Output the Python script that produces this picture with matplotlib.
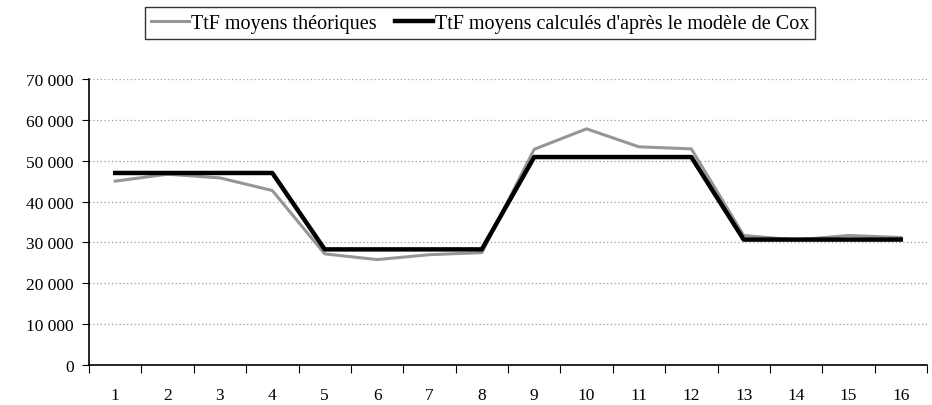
import matplotlib
matplotlib.use("Agg")
import matplotlib.pyplot as plt
import numpy as np

categories = [str(i) for i in range(1, 17)]
theoretical = [45000, 46700, 45800, 42700, 27200, 25800, 27000, 27500,
               52800, 57800, 53400, 52900, 31700, 30600, 31700, 31200]
cox = [47000, 47000, 47000, 47000, 28300, 28300, 28300, 28300,
       50900, 50900, 50900, 50900, 30700, 30700, 30700, 30700]
yticks = [0, 10000, 20000, 30000, 40000, 50000, 60000, 70000]
ytick_labels = ["0", "10 000", "20 000", "30 000", "40 000", "50 000", "60 000", "70 000"]

plt.rcParams['font.family'] = ['Liberation Serif', 'DejaVu Serif']

fig = plt.figure(figsize=(9.32, 4.06), dpi=100)
ax = fig.add_axes([89/932, 40/406, 838/932, 286/406])

x = np.arange(1, len(categories) + 1)
for yv in yticks[1:]:
    ax.axhline(yv, color='#9a9ab0', lw=0.9, ls=(0, (1, 2)), zorder=1)

l1, = ax.plot(x, theoretical, color='#969696', lw=2.2, zorder=3, label='TtF moyens théoriques')
l2, = ax.plot(x, cox, color='black', lw=3.2, zorder=4, label="TtF moyens calculés d'après le modèle de Cox")

ax.set_xlim(0.5, 16.5)
ax.set_ylim(0, 70000)
ax.set_yticks(yticks)
ax.set_yticklabels(ytick_labels, fontsize=12.5)
ax.set_xticks(np.arange(0.5, 17, 1))
ax.set_xticklabels([])
ax.set_xticks(x, minor=True)
ax.set_xticklabels(categories, minor=True, fontsize=12.5)
ax.tick_params(axis='x', which='minor', length=0, pad=16)
ax.tick_params(axis='x', which='major', length=6, direction='out', color='black')
ax.tick_params(axis='y', length=5, direction='out', pad=6)
for s in ['top', 'right']:
    ax.spines[s].set_visible(False)
for s in ['left', 'bottom']:
    ax.spines[s].set_linewidth(1.2)

leg = fig.legend(handles=[l1, l2], loc='center', bbox_to_anchor=(480/932, 1 - 24/406),
                 ncol=2, frameon=True, fancybox=False, fontsize=14.5, handlelength=1.9,
                 handletextpad=0.1, columnspacing=0.9, borderpad=0.3, borderaxespad=0,
                 edgecolor='black')
leg.get_frame().set_linewidth(1.0)

fig.savefig('out.png', dpi=100)
